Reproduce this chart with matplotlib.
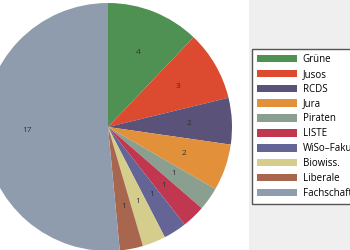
import matplotlib.pyplot as plt
from matplotlib.patches import Rectangle

parties = ["Grüne", "Jusos", "RCDS", "Jura", "Piraten", "LISTE",
           "WiSo\u2013Fakultät", "Biowiss.", "Liberale", "Fachschaften"]
seats = [4, 3, 2, 2, 1, 1, 1, 1, 1, 17]
colors = ["#4f9152", "#dc4a2f", "#5b5279", "#e29039", "#8a9f8f",
          "#c0374f", "#656496", "#d5cd8c", "#a9664f", "#8e9cae"]

plt.rcParams["font.family"] = ["Open Sans", "DejaVu Sans"]

fig = plt.figure(figsize=(3.5, 2.5), dpi=100)
fig.patch.set_facecolor("white")

# light gray panel behind the legend
fig.add_artist(Rectangle((249 / 350, 0), 1, 1, transform=fig.transFigure,
                         facecolor="#efefef", edgecolor="none", zorder=0))

ax = fig.add_axes([0, 0, 249 / 350, 1])
ax.set_facecolor("white")

total = sum(seats)
wedges, texts, autotexts = ax.pie(
    seats, colors=colors, startangle=90, counterclock=False,
    autopct=lambda p: f"{round(p * total / 100)}", pctdistance=0.65,
    textprops={"fontsize": 6, "color": "#333333"},
)

r = 124
ax.set_xlim(-108 / r, (249 - 108) / r)
ax.set_ylim(-123 / r, 127 / r)
ax.set_aspect("auto")
ax.axis("off")

leg = fig.legend(wedges, parties, loc="upper left",
                 bbox_to_anchor=(252 / 350, 1 - 49 / 250),
                 fontsize=7, frameon=True, fancybox=False,
                 handlelength=4.1, handleheight=0.8, handletextpad=0.6,
                 labelspacing=0.4, borderpad=0.5, borderaxespad=0)
leg.get_frame().set_edgecolor("#555555")
leg.get_frame().set_linewidth(1.0)
leg.get_frame().set_facecolor("white")
leg.get_frame().set_alpha(1)

fig.savefig("out.png", dpi=100)
